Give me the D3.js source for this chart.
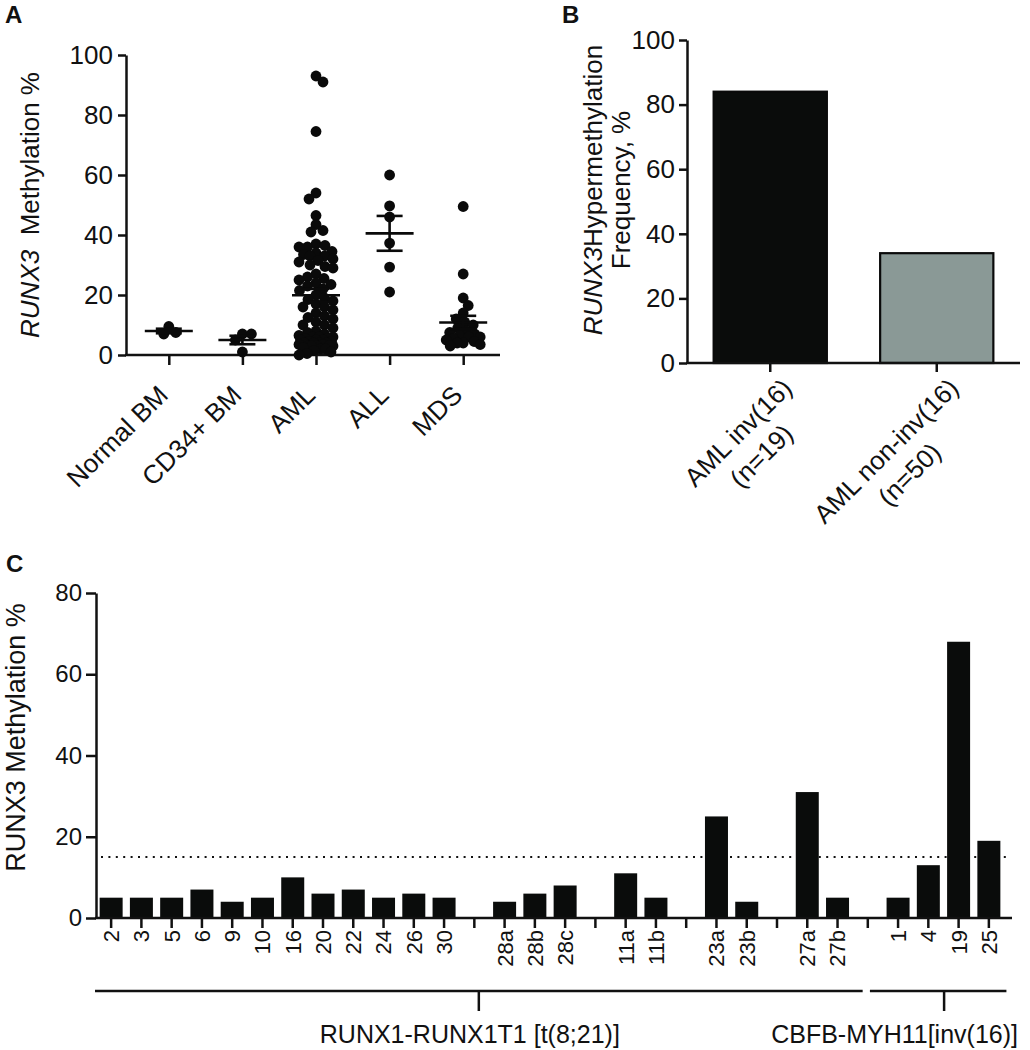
<!DOCTYPE html>
<html><head><meta charset="utf-8">
<script src="https://cdn.jsdelivr.net/npm/d3@7"></script>
<style>
body{margin:0;background:#fff}
text{font-family:"Liberation Sans",Arial,Helvetica,sans-serif;fill:#111}
</style>
</head><body>
<svg id="chart" width="1030" height="1050"></svg>
<script>
// ---------- Panel A data ----------
const groupsA = ["Normal BM", "CD34+ BM", "AML", "ALL", "MDS"];
const normalBM = [7, 7.5, 9.5];
const cd34BM = [1, 5, 7, 7];
const aml = [93, 91, 74.5, 54, 52, 46.5, 43.5, 41.5, 41,
  37, 36.5, 36, 36, 34.5, 34, 33.5, 33, 33,
  32, 31.5, 31, 30, 29.5, 29, 27, 26, 25.5, 25,
  24, 23.5, 23, 22, 21.5, 20, 19, 18.5, 18, 17,
  16, 16, 15, 14, 13, 12.5, 12, 11, 10, 10, 9,
  8, 7.5, 7, 6.5, 6, 6, 5.5, 5, 5,
  4.5, 4, 4, 3.5, 3, 3, 2, 1.5, 1, 0.5, 0,
  2, 2.5, 3, 4.5, 5.5, 6, 3, 3.5, 4, 4, 3, 5];
const allValues = [60, 49.7, 46, 37.3, 29.3, 21];
const mds = [49.5, 27, 19, 16.5, 14, 12, 11, 10, 9, 8, 7.5, 7, 6.5, 6, 6, 5.5, 5, 4.5, 4, 3.5, 4, 3];
const seriesA = [normalBM, cd34BM, aml, allValues, mds];
const ticksA = [0, 20, 40, 60, 80, 100];

// ---------- Panel B data ----------
const groupsB = ["AML inv(16)", "AML non-inv(16)"];
const groupsBsub = ["(n=19)", "(n=50)"];
const freqB = [84, 34];
const colorsB = ["#0a0c0b", "#8a9996"];
const ticksB = [0, 20, 40, 60, 80, 100];

// ---------- Panel C data ----------
const slotsC = ["2","3","5","6","9","10","16","20","22","24","26","30","|1",
  "28a","28b","28c","|2","11a","11b","|3","23a","23b","|4","27a","27b","|5",
  "1","4","19","25"];
const methC = [5,5,5,7,4,5,10,6,7,5,6,5,null,
  4,6,8,null,11,5,null,25,4,null,31,5,null,
  5,13,68,19];
const thresholdC = 15;
const ticksC = [0, 20, 40, 60, 80];
const groupNamesC = ["RUNX1-RUNX1T1 [t(8;21)]", "CBFB-MYH11[inv(16)]"];
const groupFirstC = ["2", "1"];
const groupLastC = ["27b", "25"];

const svg = d3.select("#chart");
const AXW = 2.5;

function styleAxis(g){
  g.selectAll("path.domain").attr("stroke","#111").attr("stroke-width",AXW);
  g.selectAll(".tick line").attr("stroke","#111").attr("stroke-width",AXW);
}

// ================= Panel A =================
{
  const x0 = 126, yTop = 55, yBot = 355, xEnd = 500;
  const y = d3.scaleLinear().domain([0,100]).range([yBot, yTop]);
  const x = d3.scalePoint().domain(groupsA).range([132, xEnd]).padding(0.5);

  const ga = svg.append("g").attr("transform",`translate(${x0},0)`)
    .call(d3.axisLeft(y).tickValues(ticksA).tickSize(8).tickSizeOuter(0).tickPadding(5));
  ga.selectAll(".tick text").attr("font-size",26);
  styleAxis(ga);

  const gb = svg.append("g").attr("transform",`translate(0,${yBot})`)
    .call(d3.axisBottom(x).tickSize(10).tickSizeOuter(0).tickFormat(""));
  gb.select("path.domain").remove();
  styleAxis(gb);
  svg.append("line").attr("x1",x0-1).attr("x2",xEnd).attr("y1",yBot).attr("y2",yBot)
    .attr("stroke","#111").attr("stroke-width",AXW);

  groupsA.forEach(g=>{
    svg.append("text").attr("transform",`translate(${x(g)},${yBot}) rotate(-45)`)
      .attr("x",-29).attr("y",30).attr("text-anchor","end").attr("font-size",26).text(g);
  });

  const yl = svg.append("text").attr("transform",`translate(39,${(yTop+yBot)/2}) rotate(-90)`)
    .attr("text-anchor","middle").attr("font-size",26);
  yl.append("tspan").attr("font-style","italic").text("RUNX3");
  yl.append("tspan").text("\u00a0 Methylation %");

  svg.append("text").attr("x",5).attr("y",23).attr("font-size",24).attr("font-weight","bold").text("A");

  // bounded beeswarm layout
  const r = 5.4, maxW = 17;
  function swarm(values){
    const pts = values.map(v=>({v, py:y(v)})).sort((a,b)=>a.py-b.py);
    const placed = [];
    const d = 2*r*0.82;
    let flip = 1;
    for(const p of pts){
      const near = placed.filter(q=>Math.abs(q.py-p.py) < d);
      let best = 0, bestScore = Infinity;
      for(let c=-maxW; c<=maxW+1e-9; c+=0.5){
        let ov = 0;
        near.forEach(q=>{
          const dist = Math.hypot(q.dx-c, q.py-p.py);
          if(dist < d) ov = Math.max(ov, d-dist);
        });
        const score = ov*100 + Math.abs(c) + (c*flip<0 ? 0.01 : 0);
        if(score < bestScore){bestScore=score; best=c;}
      }
      if(Math.abs(best)>0.1) flip = -flip;
      p.dx = best; placed.push(p);
    }
    return placed;
  }

  seriesA.forEach((vals,i)=>{
    const cx = x(groupsA[i]);
    const pts = swarm(vals);
    svg.append("g").selectAll("circle").data(pts).join("circle")
      .attr("cx",d=>cx+d.dx).attr("cy",d=>d.py).attr("r",r).attr("fill","#0a0a0a");
  });
  seriesA.forEach((vals,i)=>{
    const cx = x(groupsA[i]);
    const m = d3.mean(vals);
    const sem = d3.deviation(vals)/Math.sqrt(vals.length);
    const g = svg.append("g").attr("stroke","#0a0a0a").attr("stroke-width",2.6);
    g.append("line").attr("x1",cx-24).attr("x2",cx+24).attr("y1",y(m)).attr("y2",y(m));
    g.append("line").attr("x1",cx).attr("x2",cx).attr("y1",y(m+sem)).attr("y2",y(m-sem));
    g.append("line").attr("x1",cx-13).attr("x2",cx+13).attr("y1",y(m+sem)).attr("y2",y(m+sem));
    g.append("line").attr("x1",cx-13).attr("x2",cx+13).attr("y1",y(m-sem)).attr("y2",y(m-sem));
  });
}

// ================= Panel B =================
{
  const x0 = 687, yTop = 40, yBot = 363, xEnd = 1020;
  const y = d3.scaleLinear().domain([0,100]).range([yBot, yTop]);
  const x = d3.scaleBand().domain(groupsB).range([x0, xEnd]).paddingInner(0.32).paddingOuter(0.16);

  svg.append("g").selectAll("rect").data(freqB).join("rect")
    .attr("x",(d,i)=>x(groupsB[i])).attr("width",x.bandwidth())
    .attr("y",d=>y(d)).attr("height",d=>yBot-y(d))
    .attr("fill",(d,i)=>colorsB[i]).attr("stroke","#0a0a0a").attr("stroke-width",2.2);

  const ga = svg.append("g").attr("transform",`translate(${x0},0)`)
    .call(d3.axisLeft(y).tickValues(ticksB).tickSize(8).tickSizeOuter(0).tickPadding(4));
  ga.selectAll(".tick text").attr("font-size",26);
  styleAxis(ga);

  const gb = svg.append("g").attr("transform",`translate(0,${yBot})`)
    .call(d3.axisBottom(x).tickSize(9).tickSizeOuter(0).tickFormat(""));
  gb.selectAll(".tick").attr("transform",d=>`translate(${x(d)+x.bandwidth()/2},0)`);
  gb.select("path.domain").remove();
  styleAxis(gb);
  svg.append("line").attr("x1",x0-1).attr("x2",xEnd).attr("y1",yBot).attr("y2",yBot)
    .attr("stroke","#111").attr("stroke-width",AXW);

  groupsB.forEach((g,i)=>{
    const cx = x(g)+x.bandwidth()/2;
    const gg = svg.append("g").attr("transform",`translate(${cx},${yBot+2}) rotate(-45)`);
    const t1 = gg.append("text").attr("x",-1).attr("y",34).attr("text-anchor","end").attr("font-size",26).text(g);
    const len = t1.node().getComputedTextLength();
    gg.append("text").attr("x",-1-len/2).attr("y",34+33).attr("text-anchor","middle").attr("font-size",26).text(groupsBsub[i]);
  });

  const cy = 190;
  const l1 = svg.append("text").attr("transform",`translate(602,${cy}) rotate(-90)`)
    .attr("text-anchor","middle").attr("font-size",26);
  l1.append("tspan").attr("font-style","italic").text("RUNX3");
  l1.append("tspan").text("Hypermethylation");
  svg.append("text").attr("transform",`translate(630,${cy}) rotate(-90)`)
    .attr("text-anchor","middle").attr("font-size",26).text("Frequency, %");

  svg.append("text").attr("x",562).attr("y",23).attr("font-size",24).attr("font-weight","bold").text("B");
}

// ================= Panel C =================
{
  const x0 = 96, yTop = 593, yBot = 918, xEnd = 1012;
  const y = d3.scaleLinear().domain([0,80]).range([yBot, yTop]);
  const x = d3.scaleBand().domain(slotsC).range([x0, 1004]).paddingInner(0.24).paddingOuter(0.12);
  const bw = x.bandwidth();

  svg.append("line").attr("x1",x0+5).attr("x2",1006).attr("y1",y(thresholdC)).attr("y2",y(thresholdC))
    .attr("stroke","#111").attr("stroke-width",2).attr("stroke-dasharray","2,5.4");

  const bars = slotsC.map((s,i)=>({s, v:methC[i]})).filter(d=>d.v!==null);
  svg.append("g").selectAll("rect").data(bars).join("rect")
    .attr("x",d=>x(d.s)).attr("width",bw).attr("y",d=>y(d.v)).attr("height",d=>yBot-y(d.v))
    .attr("fill","#0a0c0b");

  const ga = svg.append("g").attr("transform",`translate(${x0},0)`)
    .call(d3.axisLeft(y).tickValues(ticksC).tickSize(10).tickSizeOuter(0).tickPadding(4));
  ga.selectAll(".tick text").attr("font-size",24);
  styleAxis(ga);

  const gb = svg.append("g").attr("transform",`translate(0,${yBot})`)
    .call(d3.axisBottom(x).tickSize(10).tickSizeOuter(0).tickFormat(""));
  gb.select("path.domain").remove();
  styleAxis(gb);
  svg.append("line").attr("x1",x0-1).attr("x2",xEnd).attr("y1",yBot).attr("y2",yBot)
    .attr("stroke","#111").attr("stroke-width",AXW);

  slotsC.filter(s=>!s.startsWith("|")).forEach(s=>{
    svg.append("text").attr("transform",`translate(${x(s)+bw/2},${yBot+12}) rotate(-90)`)
      .attr("text-anchor","end").attr("dy","0.36em").attr("font-size",22).text(s);
  });

  const step = x.step();
  const by = 991;
  const left1 = x0 - 1, right1 = x(groupLastC[0]) + bw + step*0.45;
  const left2 = x(groupFirstC[1]) - step*0.55, right2 = x(groupLastC[1]) + bw + step*0.2;
  const tick1 = (left1+right1)/2;
  const tick2 = x("19") - 3;
  const gbk = svg.append("g").attr("stroke","#111").attr("stroke-width",AXW);
  gbk.append("line").attr("x1",left1).attr("x2",right1).attr("y1",by).attr("y2",by);
  gbk.append("line").attr("x1",tick1).attr("x2",tick1).attr("y1",by).attr("y2",by+20);
  gbk.append("line").attr("x1",left2).attr("x2",right2).attr("y1",by).attr("y2",by);
  gbk.append("line").attr("x1",tick2).attr("x2",tick2).attr("y1",by).attr("y2",by+20);

  svg.append("text").attr("x",tick1-9).attr("y",1043).attr("text-anchor","middle").attr("font-size",25).text(groupNamesC[0]);
  svg.append("text").attr("x",1018).attr("y",1043).attr("text-anchor","end").attr("font-size",25).text(groupNamesC[1]);

  svg.append("text").attr("transform",`translate(25,${(yTop+yBot)/2 - 18}) rotate(-90)`)
    .attr("text-anchor","middle").attr("font-size",27).text("RUNX3 Methylation %");

  svg.append("text").attr("x",6).attr("y",572).attr("font-size",24).attr("font-weight","bold").text("C");
}
</script>
</body></html>
